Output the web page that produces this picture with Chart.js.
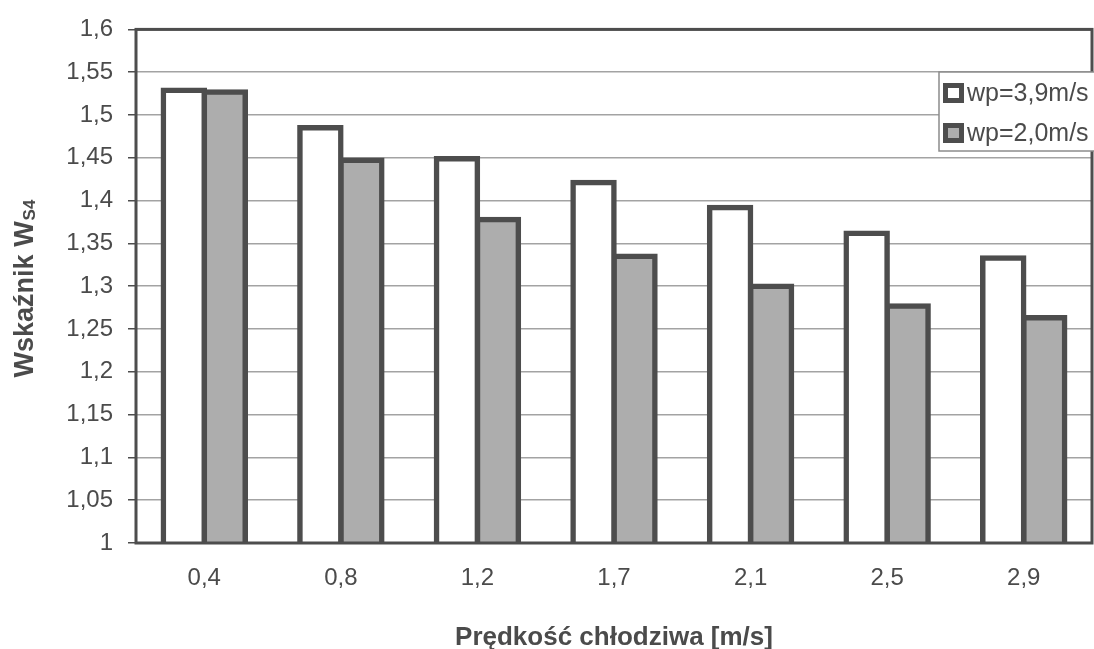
<!DOCTYPE html>
<html>
<head>
<meta charset="utf-8">
<script src="https://cdn.jsdelivr.net/npm/chart.js@4/dist/chart.umd.min.js"></script>
<style>
  html, body { margin: 0; padding: 0; background: #ffffff; }
  #wrap { width: 1094px; height: 649px; }
</style>
</head>
<body>
<div id="wrap"><canvas id="chart" width="1094" height="649"></canvas></div>
<script>
// Coolant velocity categories [m/s]
const categories = ['0,4', '0,8', '1,2', '1,7', '2,1', '2,5', '2,9'];
// Index W_S4 for both flow velocities
const seriesHigh = [1.529, 1.485, 1.449, 1.421, 1.392, 1.362, 1.333];
const seriesLow  = [1.527, 1.447, 1.378, 1.335, 1.300, 1.277, 1.263];
const seriesNames = ['wp=3,9m/s', 'wp=2,0m/s'];
// Value axis ticks
const yTickValues = [1, 1.05, 1.1, 1.15, 1.2, 1.25, 1.3, 1.35, 1.4, 1.45, 1.5, 1.55, 1.6];
const yTickLabels = ['1', '1,05', '1,1', '1,15', '1,2', '1,25', '1,3', '1,35', '1,4', '1,45', '1,5', '1,55', '1,6'];
const xTitle = 'Prędkość chłodziwa [m/s]';
const yTitleMain = 'Wskaźnik W';
const yTitleSub = 'S4';

const INK = '#4b4b4b';
const EDGE = '#4d4d4d';
const FONT = '"Liberation Sans", Arial, sans-serif';

// Plot frame drawn over the bars' bottoms
const framePlugin = {
  id: 'frame',
  afterDatasetsDraw(chart) {
    const { ctx, chartArea: a } = chart;
    ctx.save();
    ctx.strokeStyle = EDGE;
    ctx.lineWidth = 3;
    ctx.strokeRect(a.left, a.top, a.right - a.left, a.bottom - a.top);
    ctx.restore();
  }
};

// Axis titles (the value-axis title carries a subscript)
const titlesPlugin = {
  id: 'titles',
  afterDraw(chart) {
    const { ctx, chartArea: a } = chart;
    ctx.save();
    ctx.fillStyle = INK;
    ctx.font = 'bold 26px ' + FONT;
    ctx.textAlign = 'center';
    ctx.textBaseline = 'alphabetic';
    ctx.fillText(xTitle, (a.left + a.right) / 2, 645);

    const mainFont = 'bold 27px ' + FONT;
    const subFont = 'bold 17px ' + FONT;
    ctx.font = mainFont;
    const wMain = ctx.measureText(yTitleMain).width;
    ctx.font = subFont;
    const wSub = ctx.measureText(yTitleSub).width;
    const total = wMain + wSub;
    const cy = 289;
    ctx.translate(33, cy);
    ctx.rotate(-Math.PI / 2);
    ctx.textAlign = 'left';
    ctx.font = mainFont;
    ctx.fillText(yTitleMain, -total / 2, 0);
    ctx.font = subFont;
    ctx.fillText(yTitleSub, -total / 2 + wMain + 1, 2);
    ctx.restore();
  }
};

// Legend box placed inside the upper right of the plot
const legendPlugin = {
  id: 'boxLegend',
  afterDraw(chart) {
    const { ctx } = chart;
    const bx = 939, by = 72, bw = 158, bh = 79;
    ctx.save();
    ctx.fillStyle = '#ffffff';
    ctx.fillRect(bx, by, bw, bh);
    ctx.strokeStyle = '#8c8c8c';
    ctx.lineWidth = 1.5;
    ctx.strokeRect(bx, by, bw, bh);
    chart.data.datasets.forEach((ds, i) => {
      const my = 83 + i * 40;
      ctx.fillStyle = EDGE;
      ctx.fillRect(943, my, 21, 20);
      ctx.fillStyle = ds.backgroundColor;
      ctx.fillRect(948, my + 5, 11, 10);
      ctx.fillStyle = INK;
      ctx.font = '25px ' + FONT;
      ctx.textAlign = 'left';
      ctx.textBaseline = 'middle';
      ctx.fillText(ds.label, 967, my + 11);
    });
    ctx.restore();
  }
};

new Chart(document.getElementById('chart'), {
  type: 'bar',
  data: {
    labels: categories,
    datasets: [
      {
        label: seriesNames[0],
        data: seriesHigh,
        backgroundColor: '#ffffff',
        borderColor: EDGE,
        borderWidth: 5.5,
        inflateAmount: 2.75,
        categoryPercentage: 0.6,
        barPercentage: 1
      },
      {
        label: seriesNames[1],
        data: seriesLow,
        backgroundColor: '#adadad',
        borderColor: EDGE,
        borderWidth: 5.5,
        inflateAmount: 2.75,
        categoryPercentage: 0.6,
        barPercentage: 1
      }
    ]
  },
  options: {
    responsive: false,
    animation: false,
    devicePixelRatio: 1,
    layout: { padding: { top: 29, right: 2, left: 0, bottom: 0 } },
    plugins: {
      legend: { display: false },
      tooltip: { enabled: false }
    },
    scales: {
      x: {
        grid: { display: false, drawTicks: false },
        border: { display: false },
        ticks: {
          color: INK,
          font: { family: FONT, size: 24 },
          padding: 21,
          maxRotation: 0,
          autoSkip: false
        },
        afterFit(scale) { scale.height = 106; }
      },
      y: {
        min: 1,
        max: 1.6,
        afterBuildTicks(scale) {
          scale.ticks = yTickValues.map(v => ({ value: v }));
        },
        grid: {
          color: '#a3a3a3',
          lineWidth: 1.5,
          tickColor: EDGE,
          tickLength: 8,
          drawTicks: true
        },
        border: { display: false },
        ticks: {
          color: INK,
          font: { family: FONT, size: 24 },
          padding: 15,
          callback: (value, index) => yTickLabels[index]
        },
        afterFit(scale) { scale.width = 136; }
      }
    }
  },
  plugins: [framePlugin, titlesPlugin, legendPlugin]
});
</script>
</body>
</html>
